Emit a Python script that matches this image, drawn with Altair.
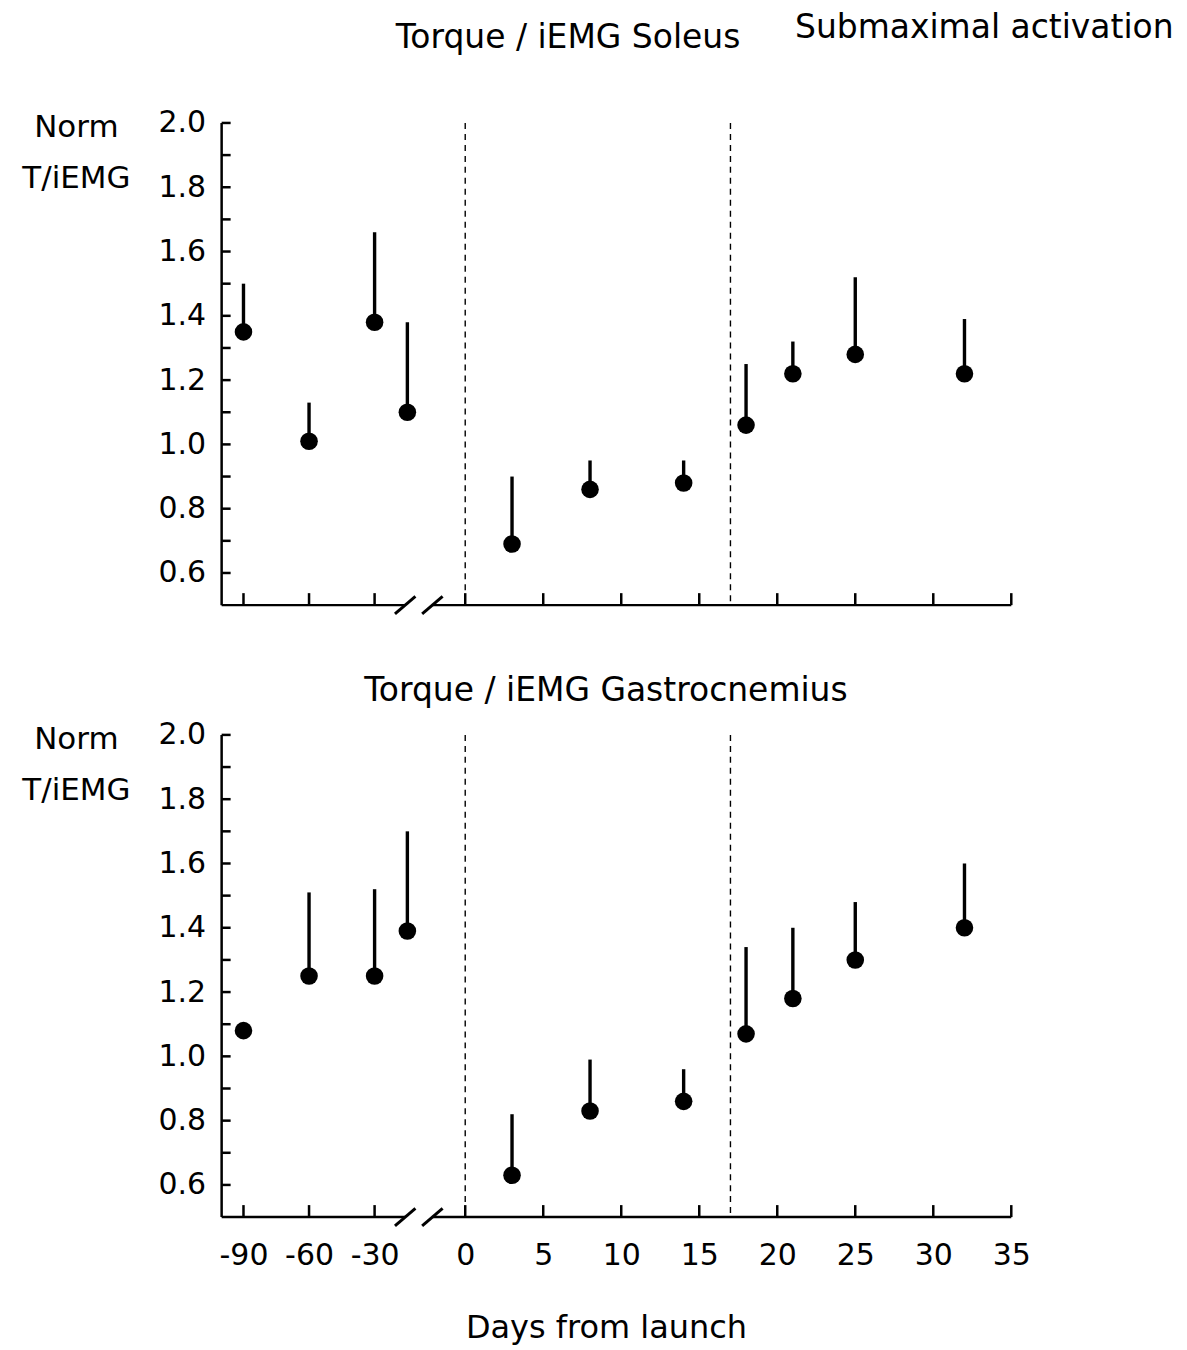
import altair as alt
import pandas as pd

# ---------------- data ----------------
days = [-90, -60, -30, -15, 3, 8, 14, 18, 21, 25, 32]
soleus_mean = [1.35, 1.01, 1.38, 1.10, 0.69, 0.86, 0.88, 1.06, 1.22, 1.28, 1.22]
soleus_upper = [1.50, 1.13, 1.66, 1.38, 0.90, 0.95, 0.95, 1.25, 1.32, 1.52, 1.39]
gastro_mean = [1.08, 1.25, 1.25, 1.39, 0.63, 0.83, 0.86, 1.07, 1.18, 1.30, 1.40]
gastro_upper = [1.08, 1.51, 1.52, 1.70, 0.82, 0.99, 0.96, 1.34, 1.40, 1.48, 1.60]

flight_days = [0, 17]                 # launch and landing (dashed lines)
break_days = [-16, -7]                # axis-break slashes
segment_start = [-100, -7]            # x-axis baseline pieces
segment_end = [-16, 35]
x_ticks = [-90, -60, -30, 0, 5, 10, 15, 20, 25, 30, 35]
y_ticks = [0.6, 0.7, 0.8, 0.9, 1.0, 1.1, 1.2, 1.3, 1.4, 1.5, 1.6, 1.7, 1.8, 1.9, 2.0]
y_labels = [0.6, 0.8, 1.0, 1.2, 1.4, 1.6, 1.8, 2.0]

title_soleus = "Torque / iEMG Soleus"
title_gastro = "Torque / iEMG Gastrocnemius"
title_right = "Submaximal activation"
y_title = ["Norm", "T/iEMG"]
x_title = "Days from launch"

# ---------------- styling ----------------
FONT = "DejaVu Sans"
W, H = 791, 483
x_domain = [-100, -10, 0, 35]          # broken axis: piecewise linear scale
x_range = [0, 197, 244, W]
y_min, y_max = 0.5, 2.0

xscale = alt.Scale(domain=x_domain, range=x_range, nice=False, zero=False)
yscale = alt.Scale(domain=[y_min, y_max], nice=False, zero=False)

Y_AXIS = alt.Axis(
    values=y_labels, format=".1f",
    domain=False, grid=False, ticks=False, tickSize=0,
    labelPadding=16, labelFontSize=30, labelFont=FONT,
    labelColor="black", labelFlush=False, labelOverlap=False,
    title=y_title, titleAngle=0, titleAlign="center", titleBaseline="top",
    titleX=-146, titleY=-10, titleFontSize=31, titleFont=FONT,
    titleFontWeight="normal", titleLineHeight=51, titleColor="black",
)

X_AXIS_LABELLED = alt.Axis(
    values=x_ticks, domain=False, grid=False, ticks=False, tickSize=0,
    labels=True, labelExpr="'' + datum.value", labelPadding=24,
    labelFontSize=30, labelFont=FONT, labelColor="black",
    labelFlush=False, labelOverlap=False,
    title=x_title, titleFontSize=32, titleFont=FONT,
    titleFontWeight="normal", titleColor="black", titlePadding=42,
    titleX=385, titleAlign="center",
)

X_AXIS_BARE = alt.Axis(
    values=x_ticks, domain=False, grid=False, ticks=False, tickSize=0,
    labels=False, title="",
)


def text_layer(text, px, py):
    return alt.Chart(pd.DataFrame({"t": [text]})).mark_text(
        font=FONT, fontSize=33, color="black", align="center",
        baseline="alphabetic",
    ).encode(text="t:N", x=alt.value(px), y=alt.value(py))


def panel(means, uppers, x_axis, texts):
    df = pd.DataFrame({"day": days, "mean": means, "upper": uppers})
    flights = pd.DataFrame({"day": flight_days})
    breaks = pd.DataFrame({"day": break_days})
    segs = pd.DataFrame({"day": segment_start, "end": segment_end})
    xt = pd.DataFrame({"day": x_ticks})
    yt = pd.DataFrame({"mean": y_ticks})

    X = alt.X("day:Q", scale=xscale, axis=x_axis)
    Y = alt.Y("mean:Q", scale=yscale, axis=Y_AXIS)

    # y-axis line (left edge of the plot frame)
    y_line = alt.Chart(segs.head(1)).mark_rule(color="black", strokeWidth=2.5).encode(
        x=alt.value(0), y=alt.value(0), y2=alt.value(H),
    )
    # inward ticks
    y_tick_marks = alt.Chart(yt).mark_rule(color="black", strokeWidth=2.5).encode(
        y=Y, x=alt.value(0), x2=alt.value(9),
    )
    x_tick_marks = alt.Chart(xt).mark_rule(color="black", strokeWidth=2.5).encode(
        x=X, y=alt.value(H - 12), y2=alt.value(H),
    )
    # broken x-axis baseline
    baseline = alt.Chart(segs).mark_rule(color="black", strokeWidth=2.5).encode(
        x=X, x2="end:Q", y=alt.value(H),
    )
    slashes = alt.Chart(breaks).mark_point(
        shape="M -1 0.85 L 1 -0.85", size=420, filled=False,
        color="black", strokeWidth=3, opacity=1,
    ).encode(x=X, y=alt.value(H))
    dashed = alt.Chart(flights).mark_rule(
        color="black", strokeWidth=1.4, strokeDash=[6, 5]
    ).encode(x=X, y=alt.value(0), y2=alt.value(H))
    errs = alt.Chart(df).mark_rule(color="black", strokeWidth=3.4).encode(
        x=X, y=Y, y2="upper:Q",
    )
    pts = alt.Chart(df).mark_circle(color="black", size=310, opacity=1).encode(
        x=X, y=Y,
    )
    layers = [pts, errs, dashed, slashes, baseline, x_tick_marks, y_tick_marks, y_line]
    layers += [text_layer(t, px, py) for (t, px, py) in texts]
    return alt.layer(*layers).properties(width=W, height=H)


top = panel(soleus_mean, soleus_upper, X_AXIS_BARE,
            [(title_soleus, 347, -75), (title_right, 764, -85)])
bottom = panel(gastro_mean, gastro_upper, X_AXIS_LABELLED,
               [(title_gastro, 385, -34)])

chart = alt.vconcat(top, bottom, spacing=55).properties(
    padding={"left": 13, "top": 3, "right": 5, "bottom": 5},
    background="white",
).configure_view(strokeWidth=0)

chart.save("out.html", embed_options={"renderer": "svg", "actions": False})
